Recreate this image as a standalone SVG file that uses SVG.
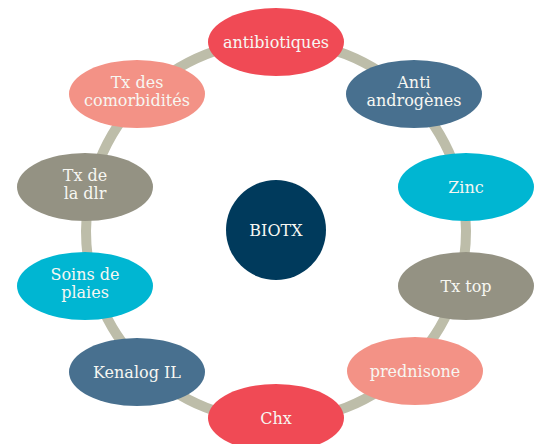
<svg xmlns="http://www.w3.org/2000/svg" width="538" height="444" viewBox="0 0 538 444">
<style>
.t{font-family:"DejaVu Serif","Liberation Serif",serif;font-size:16px;fill:#F7F7F2;text-anchor:middle}
.red{fill:#F04A55}.blue{fill:#48708F}.cyan{fill:#00B6D2}.grey{fill:#949283}.pink{fill:#F39286}
</style>
<rect width="538" height="444" fill="#FFFFFF"/>
<g id="connectors">
<circle cx="276" cy="231" r="190" fill="none" stroke="#BDBDA9" stroke-width="10"/>
</g>
<g id="center"><circle cx="276" cy="230" r="50" fill="#003A5C"/><text class="t" x="276" y="236">BIOTX</text></g>
<g id="antibiotiques"><ellipse class="red" cx="276" cy="42" rx="68" ry="34"/><text class="t" x="276" y="48">antibiotiques</text></g>
<g id="antiandrogenes"><ellipse class="blue" cx="414" cy="94" rx="68" ry="34"/><text class="t" x="414" y="88">Anti</text><text class="t" x="414" y="106">androgènes</text></g>
<g id="zinc"><ellipse class="cyan" cx="466" cy="187" rx="68" ry="34"/><text class="t" x="466" y="193">Zinc</text></g>
<g id="txtop"><ellipse class="grey" cx="466" cy="286" rx="68" ry="34"/><text class="t" x="466" y="292">Tx top</text></g>
<g id="prednisone"><ellipse class="pink" cx="415" cy="371" rx="68" ry="34"/><text class="t" x="415" y="377">prednisone</text></g>
<g id="chx"><ellipse class="red" cx="276" cy="418" rx="68" ry="34"/><text class="t" x="276" y="424">Chx</text></g>
<g id="kenalog"><ellipse class="blue" cx="137" cy="372" rx="68" ry="34"/><text class="t" x="137" y="378">Kenalog IL</text></g>
<g id="soins"><ellipse class="cyan" cx="85" cy="286" rx="68" ry="34"/><text class="t" x="85" y="280">Soins de</text><text class="t" x="85" y="298">plaies</text></g>
<g id="txdlr"><ellipse class="grey" cx="85" cy="187" rx="68" ry="34"/><text class="t" x="85" y="181">Tx de</text><text class="t" x="85" y="199">la dlr</text></g>
<g id="txcomorb"><ellipse class="pink" cx="137" cy="94" rx="68" ry="34"/><text class="t" x="137" y="88">Tx des</text><text class="t" x="137" y="106">comorbidités</text></g>
</svg>
